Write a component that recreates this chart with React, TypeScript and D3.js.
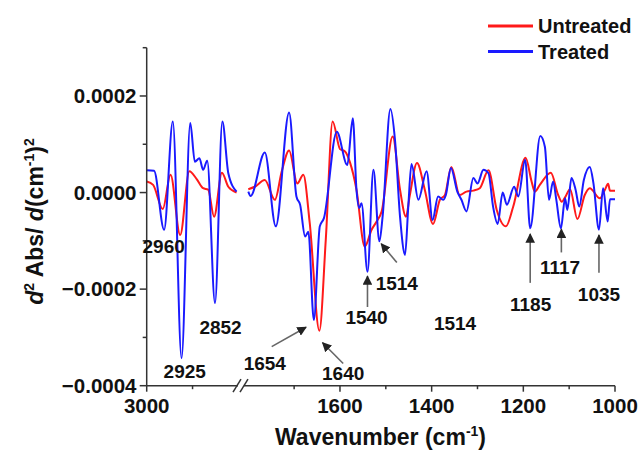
import React from "react";
import * as d3 from "d3";

// values in units of 1e-4 (d² Abs / d(cm⁻¹)²)
const UNIT = 1e-4;

const treatedLeft: [number, number][] = [
  [3000, 0.46], [2984, 0.45], [2962, -0.77], [2943, 1.47], [2924, -3.43], [2905, 1.44],
  [2895, 0.64], [2885, 0.71], [2877, 0.47], [2868, 0.66], [2851, -2.29], [2835, 1.47],
  [2822, 0.4], [2804, 0.02],
];
const untreatedLeft: [number, number][] = [
  [3000, 0.23], [2986, 0.16], [2965, -0.34], [2948, 0.37], [2927, -0.88], [2907, 0.44],
  [2891, 0.28], [2877, 0.09], [2866, 0.06], [2853, -0.5], [2836, 0.41], [2822, 0.12], [2804, 0.0],
];
const treatedRight: [number, number][] = [
  [1800, 0.02], [1795, -0.07], [1764, 0.83], [1740, -0.7], [1711, 1.66], [1695, -0.08],
  [1687, -0.25], [1676, -0.91], [1669, -0.81], [1657, -2.64], [1644, -0.7], [1635, -0.53],
  [1607, 1.26], [1584, 0.57], [1572, 1.54], [1564, 0.06], [1558, -0.32], [1553, -0.22],
  [1540, -1.64], [1527, 0.47], [1514, -1.01], [1507, -0.5], [1490, 1.73], [1480, 1.09],
  [1469, -0.5], [1458, -1.29], [1451, -0.29], [1444, 0.59], [1429, -0.15], [1411, 0.44],
  [1398, -0.57], [1386, -0.08], [1375, -0.15], [1369, -0.05], [1358, 0.51], [1344, 0.02],
  [1335, -0.15], [1324, -0.39], [1309, 0.3], [1300, 0.19], [1287, 0.47], [1276, 0.4],
  [1266, -0.29], [1256, -0.65], [1245, 0.0], [1236, -0.25], [1220, 0.12], [1211, -0.08],
  [1196, 0.68], [1185, -0.74], [1163, 1.17], [1153, 0.95], [1144, -0.15], [1135, 0.23],
  [1128, -0.15], [1118, -0.74], [1109, -0.12], [1104, -0.36], [1095, 0.3], [1086, 0.06],
  [1078, -0.29], [1068, 0.26], [1055, 0.53], [1047, 0.19], [1035, -0.77], [1026, 0.09],
  [1016, -0.6], [1011, -0.14], [1000, -0.14],
];
const untreatedRight: [number, number][] = [
  [1800, 0.07], [1786, 0.12], [1764, 0.26], [1742, -0.15], [1727, 0.44], [1711, 0.87],
  [1693, 0.19], [1680, 0.37], [1666, -0.63], [1645, -2.86], [1631, -0.98], [1616, 1.47],
  [1600, 0.9], [1589, 0.85], [1578, 0.62], [1564, 0.06], [1546, -1.12], [1531, -0.77],
  [1520, -0.6], [1509, -0.39], [1485, 1.16], [1469, 0.06], [1456, -0.5], [1448, -0.08],
  [1432, 0.61], [1415, 0.06], [1397, -0.65], [1382, -0.15], [1371, -0.05], [1357, 0.53],
  [1339, -0.05], [1324, 0.02], [1309, 0.04], [1295, 0.09], [1276, 0.46], [1258, -0.36],
  [1238, -0.7], [1222, -0.29], [1195, 0.72], [1182, 0.23], [1175, 0.02], [1164, 0.16],
  [1140, 0.41], [1124, -0.05], [1116, -0.19], [1109, -0.1], [1098, 0.07], [1082, -0.55],
  [1066, -0.05], [1055, 0.09], [1033, -0.12], [1022, 0.06], [1015, 0.18], [1011, 0.04],
  [1000, 0.04],
];

const yMajorTicks = [-4, -2, 0, 2];
const yMinorTicks = [-3, -1, 1, 3];
const xMajorTicks = [3000, 1600, 1400, 1200, 1000];
const xMinorTicks = [2900, 1700, 1500, 1300, 1100];

const seriesNames = ["Untreated", "Treated"];
const seriesColors = ["#ff1a1a", "#1a1aff"];

// label: [text, wavenumber, value(baseline)]
const peakLabels: [string, number, number][] = [
  ["2960", 2963, -1.25], ["2925", 2917, -3.84], ["2852", 2839, -2.93],
  ["1654", 1764, -3.67], ["1640", 1593, -3.88], ["1540", 1542, -2.72],
  ["1514", 1476, -2.02], ["1514", 1349, -2.85], ["1185", 1184, -2.45],
  ["1117", 1120, -1.68], ["1035", 1035, -2.24],
];
// arrows: [w1, v1, w2, v2] from tail to head
const arrows: [number, number, number, number][] = [
  [1749, -3.19, 1674, -2.79], [1593, -3.54, 1638, -3.11], [1540, -2.37, 1540, -1.73],
  [1476, -1.45, 1510, -1.06], [1185, -1.87, 1185, -0.86], [1117, -1.24, 1117, -0.76],
  [1035, -1.66, 1035, -0.88],
];

const W = 639, H = 452;
const xLeft = d3.scaleLinear().domain([3000, 2800]).range([146.7, 238.4]);
const xRight = d3.scaleLinear().domain([1800, 1000]).range([248.3, 615]);
const xPos = (w: number) => (w >= 2000 ? xLeft(w) : xRight(w));
const y = d3.scaleLinear().domain([-4, 3]).range([385.7, 47.7]);

const line = d3
  .line<[number, number]>()
  .x((d) => xPos(d[0]))
  .y((d) => y(d[1]))
  .curve(d3.curveMonotoneX);

const FONT = "'Liberation Sans', Arial, sans-serif";
const AX = "#333";

const fmt = (t: number) => {
  const s = Math.abs(t * UNIT).toFixed(4);
  return t < 0 ? "\u2212" + s : s;
};

export default function App() {
  const y0 = y(-4);
  return (
    <svg
      width={W}
      height={H}
      style={{ position: "absolute", left: 0, top: 0, background: "#fff" }}
      fontFamily={FONT}
    >
      <defs>
        <marker id="ah" viewBox="0 0 10 10" refX="9" refY="5" markerWidth="6" markerHeight="6" orient="auto">
          <path d="M0,0 L10,5 L0,10 z" fill="#222" />
        </marker>
      </defs>
      <rect width={W} height={H} fill="#fff" />

      {/* series */}
      <path d={line(untreatedLeft) || ""} fill="none" stroke={seriesColors[0]} strokeWidth={2} />
      <path d={line(untreatedRight) || ""} fill="none" stroke={seriesColors[0]} strokeWidth={2} />
      <path d={line(treatedLeft) || ""} fill="none" stroke={seriesColors[1]} strokeWidth={2} />
      <path d={line(treatedRight) || ""} fill="none" stroke={seriesColors[1]} strokeWidth={2} />

      {/* y axis */}
      <line x1={xLeft(3000)} x2={xLeft(3000)} y1={y(3)} y2={y0} stroke={AX} strokeWidth={1.5} />
      {yMajorTicks.map((t) => (
        <g key={"ym" + t}>
          <line x1={xLeft(3000) - 7} x2={xLeft(3000)} y1={y(t)} y2={y(t)} stroke={AX} strokeWidth={1.5} />
          <text x={136.5} y={y(t) + 7} textAnchor="end" fontWeight="bold" fontSize={20.5} fill="#111">
            {fmt(t)}
          </text>
        </g>
      ))}
      {yMinorTicks.map((t) => (
        <line key={"yn" + t} x1={xLeft(3000) - 4} x2={xLeft(3000)} y1={y(t)} y2={y(t)} stroke={AX} strokeWidth={1.5} />
      ))}

      {/* x axis with break */}
      <line x1={xLeft(3000)} x2={238} y1={y0} y2={y0} stroke={AX} strokeWidth={1.5} />
      <line x1={244} x2={xRight(1000)} y1={y0} y2={y0} stroke={AX} strokeWidth={1.5} />
      <line x1={233} y1={y0 + 6.5} x2={241} y2={y0 - 6.5} stroke={AX} strokeWidth={1.5} />
      <line x1={240} y1={y0 + 6.5} x2={248} y2={y0 - 6.5} stroke={AX} strokeWidth={1.5} />
      {xMajorTicks.map((t) => (
        <g key={"xm" + t}>
          <line x1={xPos(t)} x2={xPos(t)} y1={y0} y2={y0 + 6} stroke={AX} strokeWidth={1.5} />
          <text x={xPos(t)} y={413} textAnchor="middle" fontWeight="bold" fontSize={20.5} fill="#111">
            {t}
          </text>
        </g>
      ))}
      {xMinorTicks.map((t) => (
        <line key={"xn" + t} x1={xPos(t)} x2={xPos(t)} y1={y0} y2={y0 + 3.5} stroke={AX} strokeWidth={1.5} />
      ))}

      {/* axis titles */}
      <text x={380.5} y={445} textAnchor="middle" fontWeight="bold" fontSize={23} fill="#111">
        Wavenumber (cm
        <tspan fontSize={14} dy={-9}>-1</tspan>
        <tspan dy={9}>)</tspan>
      </text>
      <text transform="translate(43,221.5) rotate(-90)" textAnchor="middle" fontWeight="bold" fontSize={23} fill="#111">
        <tspan fontStyle="italic">d</tspan>
        <tspan fontSize={14} dy={-9}>2</tspan>
        <tspan dy={9}> Abs/ </tspan>
        <tspan fontStyle="italic">d</tspan>
        <tspan>(cm</tspan>
        <tspan fontSize={14} dy={-9}>-1</tspan>
        <tspan dy={9}>)</tspan>
        <tspan fontSize={14} dy={-9}>2</tspan>
      </text>

      {/* legend */}
      {seriesNames.map((n, i) => (
        <g key={n}>
          <line x1={488} x2={533} y1={26 + i * 25.5} y2={26 + i * 25.5} stroke={seriesColors[i]} strokeWidth={3} />
          <text x={538} y={33 + i * 25.5} fontWeight="bold" fontSize={20} fill="#111">
            {n}
          </text>
        </g>
      ))}

      {/* annotations */}
      {arrows.map((a, i) => (
        <line
          key={"ar" + i}
          x1={xPos(a[0])}
          y1={y(a[1])}
          x2={xPos(a[2])}
          y2={y(a[3])}
          stroke="#666"
          strokeWidth={1.6}
          markerEnd="url(#ah)"
        />
      ))}
      {peakLabels.map((p, i) => (
        <text key={"pl" + i} x={xPos(p[1])} y={y(p[2])} textAnchor="middle" fontWeight="bold" fontSize={19} fill="#111">
          {p[0]}
        </text>
      ))}
    </svg>
  );
}
